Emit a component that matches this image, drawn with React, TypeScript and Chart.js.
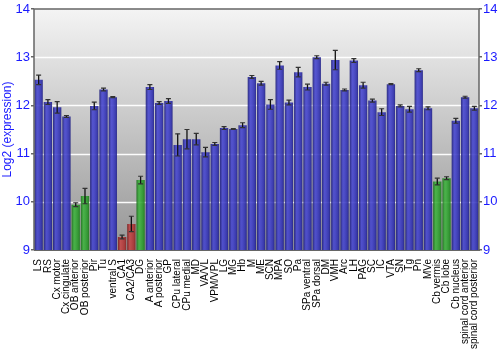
import React, { useEffect, useRef } from "react";
import { Chart, registerables } from "chart.js";

Chart.register(...registerables);

const categories = [
  "LS", "RS", "Cx motor", "Cx cingulate", "OB anterior", "OB posterior", "Pir", "Tu",
  "ventral S", "CA1", "CA2/CA3", "DG", "A anterior", "A posterior", "GP", "CPu lateral",
  "CPu medial", "MD", "VA/VL", "VPM/VPL", "LG", "MG", "Hb", "M", "ME", "SCN", "MPA", "SO",
  "Pa", "SPa ventral", "SPa dorsal", "DM", "VMH", "Arc", "LH", "PAG", "SC", "IC", "VTA",
  "SN", "Tg", "Pn", "MVe", "Cb vermis", "Cb lobe", "Cb nucleus", "spinal cord anterior",
  "spinal cord posterior",
];

const values = [
  12.53, 12.07, 11.96, 11.77, 9.94, 10.12, 11.99, 12.33,
  12.17, 9.27, 9.54, 10.45, 12.38, 12.05, 12.09, 11.18,
  11.3, 11.3, 11.03, 11.2, 11.53, 11.51, 11.59, 12.59, 12.46, 12.02, 12.83, 12.06,
  12.69, 12.38, 13.0, 12.45, 12.94, 12.32, 12.93, 12.42, 12.1, 11.86, 12.44,
  11.99, 11.92, 12.73, 11.94, 10.42, 10.49, 11.68, 12.17,
  11.94,
];

const errors = [
  0.1, 0.05, 0.12, 0.02, 0.04, 0.16, 0.08, 0.03,
  0.01, 0.04, 0.16, 0.08, 0.05, 0.03, 0.05, 0.23,
  0.2, 0.12, 0.1, 0.03, 0.03, 0.01, 0.05, 0.03, 0.04, 0.1, 0.08, 0.05,
  0.1, 0.06, 0.03, 0.03, 0.2, 0.02, 0.04, 0.06, 0.03, 0.07, 0.01,
  0.02, 0.06, 0.03, 0.03, 0.07, 0.03, 0.05, 0.02,
  0.04,
];

// b = blue, g = green, r = red
const colorGroups = [
  "b", "b", "b", "b", "g", "g", "b", "b",
  "b", "r", "r", "g", "b", "b", "b", "b",
  "b", "b", "b", "b", "b", "b", "b", "b", "b", "b", "b", "b",
  "b", "b", "b", "b", "b", "b", "b", "b", "b", "b", "b",
  "b", "b", "b", "b", "g", "g", "b", "b",
  "b",
];

const yTicks = [9, 10, 11, 12, 13, 14];

const palettes: Record<string, string[]> = {
  b: ["rgba(28,28,120,0.9)", "rgba(72,72,208,0.9)", "rgba(66,66,200,0.9)", "rgba(48,48,176,0.9)", "rgba(30,30,130,0.9)"],
  g: ["rgba(26,110,26,0.9)", "rgba(64,180,64,0.9)", "rgba(58,170,58,0.9)", "rgba(40,150,40,0.9)", "rgba(28,118,28,0.9)"],
  r: ["rgba(120,28,28,0.9)", "rgba(196,72,72,0.9)", "rgba(188,64,64,0.9)", "rgba(168,50,50,0.9)", "rgba(128,30,30,0.9)"],
};

const BAR_PCT = 0.9;

export default function App() {
  const ref = useRef<HTMLCanvasElement | null>(null);

  useEffect(() => {
    if (!ref.current) return;

    const bgPlugin = {
      id: "bgPlugin",
      beforeDatasetsDraw(chart: any) {
        const { ctx, chartArea } = chart;
        const { left, top, right, bottom } = chartArea;
        ctx.save();
        const g = ctx.createLinearGradient(0, top, 0, bottom);
        g.addColorStop(0, "#f4f4f4");
        g.addColorStop(1, "#959595");
        ctx.fillStyle = g;
        ctx.fillRect(left, top, right - left, bottom - top);
        const y = chart.scales.y;
        ctx.strokeStyle = "rgba(255,255,255,0.95)";
        ctx.lineWidth = 1.5;
        for (const t of yTicks) {
          if (t === 9 || t === 14) continue;
          const py = Math.round(y.getPixelForValue(t)) + 0.5;
          ctx.beginPath();
          ctx.moveTo(left, py);
          ctx.lineTo(right, py);
          ctx.stroke();
        }
        ctx.restore();
      },
      afterDatasetsDraw(chart: any) {
        const { ctx, chartArea } = chart;
        const y = chart.scales.y;
        const meta = chart.getDatasetMeta(0);
        ctx.save();
        meta.data.forEach((el: any, i: number) => {
          const x = el.x;
          const hi = y.getPixelForValue(values[i] + errors[i]);
          const lo = y.getPixelForValue(values[i] - errors[i]);
          ctx.strokeStyle = "#111";
          ctx.lineWidth = 1.3;
          ctx.beginPath();
          ctx.moveTo(x, hi);
          ctx.lineTo(x, lo);
          ctx.stroke();
          ctx.strokeStyle = "#333";
          ctx.lineWidth = 1.2;
          ctx.beginPath();
          ctx.moveTo(x - 2.5, hi);
          ctx.lineTo(x + 2.5, hi);
          ctx.moveTo(x - 2.5, lo);
          ctx.lineTo(x + 2.5, lo);
          ctx.stroke();
        });
        // frame
        ctx.strokeStyle = "#666";
        ctx.lineWidth = 1.5;
        ctx.beginPath();
        ctx.moveTo(chartArea.left, chartArea.bottom);
        ctx.lineTo(chartArea.left, chartArea.top);
        ctx.lineTo(chartArea.right, chartArea.top);
        ctx.lineTo(chartArea.right, chartArea.bottom);
        ctx.stroke();
        ctx.restore();
      },
    };

    const barColor = (c: any) => {
      const chart = c.chart;
      const xs = chart.scales && chart.scales.x;
      const i = c.dataIndex;
      const pal = palettes[colorGroups[i]] || palettes.b;
      if (!xs || !chart.chartArea || i === undefined) return pal[2];
      const cx = xs.getPixelForValue(i);
      const w = (xs.width / categories.length) * BAR_PCT;
      const g = chart.ctx.createLinearGradient(cx - w / 2, 0, cx + w / 2, 0);
      g.addColorStop(0, pal[0]);
      g.addColorStop(0.3, pal[1]);
      g.addColorStop(0.5, pal[2]);
      g.addColorStop(0.8, pal[3]);
      g.addColorStop(1, pal[4]);
      return g;
    };

    const yGrid = {
      display: true,
      drawOnChartArea: false,
      drawTicks: true,
      tickLength: 3,
      color: "#666",
      lineWidth: 1.5,
    };

    const chart = new Chart(ref.current, {
      type: "bar",
      data: {
        labels: categories,
        datasets: [
          {
            data: values,
            backgroundColor: barColor as any,
            borderWidth: 0,
            barPercentage: BAR_PCT,
            categoryPercentage: 1,
            yAxisID: "y",
          },
        ],
      },
      options: {
        responsive: false,
        animation: false,
        layout: { padding: { top: 9, left: 0, right: 0, bottom: 0 } },
        plugins: { legend: { display: false }, tooltip: { enabled: false } },
        scales: {
          x: {
            grid: { display: false },
            border: { display: true, color: "#666" },
            ticks: {
              autoSkip: false,
              minRotation: 90,
              maxRotation: 90,
              color: "#000",
              padding: 1,
              font: { family: "Liberation Sans", size: 10 },
            },
            afterFit(s: any) {
              s.height = 100;
            },
          },
          y: {
            position: "left",
            min: 9,
            max: 14,
            grid: yGrid,
            border: { display: false },
            afterBuildTicks(s: any) {
              s.ticks = yTicks.map((v) => ({ value: v }));
            },
            ticks: {
              color: "#1a1aff",
              padding: 1,
              font: { family: "Liberation Sans", size: 13 },
            },
            title: {
              display: true,
              text: "Log2 (expression)",
              color: "#1a1aff",
              padding: 0,
              font: { family: "Liberation Sans", size: 12 },
            },
            afterFit(s: any) {
              s.width = 34;
            },
          },
          y2: {
            position: "right",
            min: 9,
            max: 14,
            grid: yGrid,
            border: { display: false },
            afterBuildTicks(s: any) {
              s.ticks = yTicks.map((v) => ({ value: v }));
            },
            ticks: {
              color: "#1a1aff",
              padding: 1,
              font: { family: "Liberation Sans", size: 13 },
            },
            afterFit(s: any) {
              s.width = 21;
            },
          },
        },
      },
      plugins: [bgPlugin],
    });

    return () => chart.destroy();
  }, []);

  return (
    <div style={{ position: "fixed", left: 0, top: 0, width: 500, height: 350, background: "#fff" }}>
      <canvas ref={ref} width={500} height={350} style={{ width: 500, height: 350 }} />
    </div>
  );
}
